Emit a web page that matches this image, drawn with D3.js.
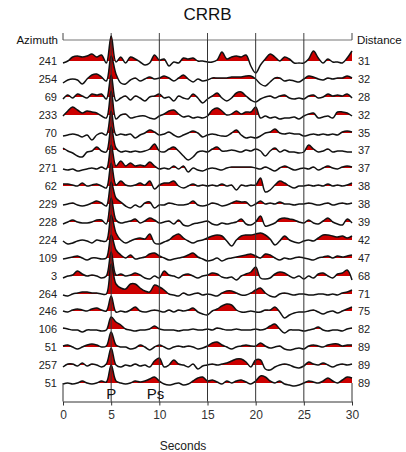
<!DOCTYPE html>
<html><head><meta charset="utf-8">
<script src="https://cdn.jsdelivr.net/npm/d3@7"></script>
<style>
body{margin:0;background:#fff}
svg{display:block}
text{font-family:"Liberation Sans",Arial,Helvetica,sans-serif}
</style>
</head><body>
<svg id="c" width="406" height="452"></svg>
<script>
const title = "CRRB";
const azimuths  = [241,254,69,233,70,65,271,62,229,228,224,109,3,264,246,106,51,257,51];
const distances = [31,32,28,32,35,37,37,38,38,39,42,47,68,71,75,82,89,89,89];
const timeStep = 0.5;            // seconds between samples
const xTicks = [0,5,10,15,20,25,30];
const phaseLabels = ["P","Ps"];
const phaseTimes  = [5,9.6];

// receiver-function amplitudes (relative units), one sample every 0.5 s from 0 to 30 s
const tr01 = [-2,0,4,5,4,5,7,4,6,-2, 25,-1,4,-2,4,2,-1,-4,-2,6, 1,2,-5,-1,-2,3,2,3,0,0, -1,-1,1,9,2,4,5,4,6,-5, -12,-4,2,7,4,0,4,2,-2,-2, -2,2,10,3,-2,2,-1,-1,-2,3, 10];
const tr02 = [-4,-1,0,-1,-5,0,4,5,2,-2, 23,5,-4,-5,-1,1,-2,0,2,0, 1,3,1,-2,1,4,0,-3,0,-2, -1,1,1,1,1,2,2,2,3,3, 0,-5,-7,-3,1,1,-2,-1,-2,-3, 0,3,2,0,-1,1,0,1,1,3, 1];
const tr03 = [-2,2,-1,3,1,-1,3,2,3,-2, 22,-4,-1,1,-3,1,-1,-4,0,1, 3,-1,0,-4,1,-1,-2,3,-1,-6, -2,1,4,-1,-4,-1,4,5,1,-3, -5,-2,0,1,-1,1,2,-1,-2,-1, -2,1,2,-1,0,3,1,2,1,3, -1];
const tr04 = [-1,4,8,5,2,4,3,2,-1,-3, 24,-4,0,1,-3,-2,-1,-1,-3,-4, -1,1,4,5,1,-2,-1,-3,-2,-3, -1,5,7,4,0,1,4,1,3,3, 8,-3,-1,-3,-2,-4,-3,-3,-2,-4, -1,1,2,-3,-2,-1,-3,3,3,2, -1];
const tr05 = [-3,-2,-1,-2,-4,-2,-7,-2,0,-2, 22,-2,-1,-2,-1,-5,-2,0,3,1, -2,-1,1,-2,-4,-2,0,2,0,-4, -2,-1,-2,-3,-3,0,3,-2,-5,-4, -5,-3,0,1,4,0,-1,0,-1,-1, -3,-2,-1,-2,-1,-2,-1,-2,1,2, 1];
const tr06 = [2,-1,-3,-6,-7,-2,-1,3,-1,-2, 23,2,-2,-1,-2,-1,-2,-1,1,6, -1,-2,1,3,-1,-6,-10,-7,-2,-1, -2,1,3,-1,-1,0,-1,-2,0,-1, 1,-1,-6,-1,2,-2,0,-2,-2,-3, -2,5,1,-2,-1,1,-2,-1,-1,-2, -2];
const tr07 = [-1,-2,-1,-3,-2,-1,0,-1,1,-1, 23,2,7,2,5,2,3,2,6,2, -1,0,-1,2,-1,2,-4,0,-2,-3, -1,0,-1,-2,0,1,1,1,1,1, 0,-1,1,-1,-3,0,2,0,-2,-1, 0,-1,1,-2,0,2,0,-1,1,2, 1];
const tr08 = [2,2,1,0,3,0,1,2,0,-2, 23,1,5,1,0,1,3,1,5,-3, 1,3,3,5,0,-2,0,2,0,1, 0,1,0,2,0,1,-4,1,0,1, 1,8,-6,-4,1,5,3,0,-2,0, 0,1,0,1,0,2,0,1,0,1, 3];
const tr09 = [-1,0,1,-1,-2,-1,1,3,1,-2, 22,6,2,-2,-4,-1,-3,1,2,-4, -1,-1,1,0,-1,-1,0,3,-1,-2, -1,1,0,-2,-1,1,3,2,2,-2, 0,3,0,1,0,2,0,0,-1,0, 0,1,0,-1,0,1,-1,0,1,0, 1];
const tr10 = [-2,0,2,0,-1,-1,0,2,2,-2, 24,2,-1,0,1,3,-1,1,4,2, -1,0,1,-2,2,-3,-4,-2,-1,0, 1,-2,-3,-1,-2,-1,0,3,-2,-3, 0,6,-4,-3,-1,3,4,3,2,0, -1,2,-1,-2,1,4,0,-2,-3,3, -1];
const tr11 = [-1,-4,-3,-1,0,-1,-3,0,-1,-1, 25,7,0,-3,-1,1,2,1,6,-3, -4,-2,0,4,6,2,-1,-3,-1,0, 2,4,5,4,-1,-6,0,4,5,5, 6,7,5,1,-5,-1,4,0,-2,-3, -1,0,-1,2,5,5,4,3,4,2, 4];
const tr12 = [-1,0,1,2,0,-2,0,0,-1,0, 23,8,3,0,3,-1,0,1,4,5, 2,0,-2,-1,0,1,3,5,1,-1, -3,-2,0,-3,-1,0,1,2,3,4, 2,0,4,3,0,-2,0,-1,0,1, 0,-1,-2,0,1,2,0,2,1,2, 3];
const tr13 = [-2,0,1,5,2,0,1,0,-2,0, 24,1,2,0,1,3,1,-2,-3,0, -2,5,1,0,-2,1,2,0,-2,0, 1,3,2,-1,-2,-1,-4,0,2,4, 9,-2,-3,-2,2,4,3,0,-2,0, -3,0,-2,2,3,0,-2,2,3,6, -4];
const tr14 = [-1,-2,0,1,2,2,1,1,0,0, 30,10,6,5,10,10,6,3,2,9, 7,4,0,-1,-2,1,-1,0,1,-1, 0,-1,-2,1,3,3,1,-1,-1,1, 4,6,1,-2,-3,0,1,0,-1,0, 0,-1,-1,0,0,-1,0,-1,1,2, 4];
const tr15 = [0,-1,1,2,1,0,2,3,1,0, 15,-1,0,-1,1,4,0,-1,0,1, 0,-1,1,-1,1,0,1,3,-1,-3, -4,0,2,5,7,6,1,-1,-1,0, -1,-1,1,1,4,-1,-7,-4,-2,-1, -1,0,1,-1,-3,-1,0,-2,0,2, 4];
const tr16 = [1,0,-1,-1,-3,-1,-1,-1,-2,-1, 12,7,4,0,-1,-2,-1,-1,0,3, 0,-1,-1,-1,-2,-1,-1,0,-1,-1, 0,-1,1,0,-1,-1,0,-1,-1,-1, 0,-1,0,3,5,0,-4,-1,-1,-1, -2,-1,0,2,-1,-2,-1,-1,-2,0, 1];
const tr17 = [1,2,0,-2,0,2,3,2,0,1, 15,2,0,0,-2,-1,2,0,-3,0, 2,0,-2,0,1,0,1,0,-2,-1, 1,4,5,2,0,-2,0,1,2,1, 1,4,1,-1,0,1,-2,-3,-2,-1, -2,1,2,1,0,2,3,3,1,2, 2];
const tr18 = [-2,1,1,-1,2,-1,1,0,-2,1, 17,0,-2,0,-1,1,-1,0,-2,4, 7,-2,0,5,1,0,-2,1,-4,-1, 0,1,0,1,2,4,6,6,3,-2, 5,5,-4,-5,-2,0,1,0,-2,-3, -1,3,1,0,2,0,-2,0,1,0, 1];
const tr19 = [-1,0,-1,0,2,0,-1,0,2,1, 18,2,0,-1,0,2,1,2,4,6, 2,-1,-2,-1,0,-2,-1,2,5,6, 2,3,1,-1,2,0,2,3,1,-1, 2,7,6,2,0,2,-1,-2,-3,-2, 0,2,1,0,2,5,2,0,3,6, 5];
const traces = [tr01,tr02,tr03,tr04,tr05,tr06,tr07,tr08,tr09,tr10,tr11,tr12,tr13,tr14,tr15,tr16,tr17,tr18,tr19];

const svg = d3.select("#c");
const L = 63, R = 352, TOP = 40, BOT = 401.5;
const x = d3.scaleLinear().domain([0,30]).range([L,R]);
const yBase = d3.scaleLinear().domain([0,traces.length-1]).rangeRound([61,383]);
const amp = d3.scaleLinear().domain([0,1]).range([0,-1.0]);
const RED = "#cc0000";

// title
svg.append("text").attr("x",(L+R)/2).attr("y",20).attr("text-anchor","middle")
  .attr("font-size",17).attr("fill","#111").text(title);

// headers
svg.append("text").attr("x",58).attr("y",44).attr("text-anchor","end").attr("font-size",11.5).attr("fill","#111").text("Azimuth");
svg.append("text").attr("x",357).attr("y",44).attr("text-anchor","start").attr("font-size",11.5).attr("fill","#111").text("Distance");

// top frame line + ticks
svg.append("line").attr("x1",L).attr("x2",R).attr("y1",TOP).attr("y2",TOP).attr("stroke","#777").attr("stroke-width",1.2);
svg.selectAll(".tt").data(xTicks).enter().append("line")
  .attr("x1",d=>x(d)).attr("x2",d=>x(d)).attr("y1",33).attr("y2",TOP).attr("stroke","#444");

const defs = svg.append("defs");
const g = svg.append("g");

traces.forEach((tr,i)=>{
  const b = yBase(i);
  defs.append("clipPath").attr("id","cl"+i).append("rect")
    .attr("x",L-1).attr("y",0).attr("width",R-L+2).attr("height",b);
  const area = d3.area().x((d,j)=>x(j*timeStep)).y0(b).y1(d=>b+amp(d)).curve(d3.curveCatmullRom.alpha(0.5));
  const line = d3.line().x((d,j)=>x(j*timeStep)).y(d=>b+amp(d)).curve(d3.curveCatmullRom.alpha(0.5));
  const tg = g.append("g");
  tg.append("path").attr("d",area(tr)).attr("fill",RED).attr("clip-path","url(#cl"+i+")");
  tg.append("path").attr("d",line(tr)).attr("fill","none").attr("stroke","#111").attr("stroke-width",1.5)
    .attr("stroke-linejoin","round");
  svg.append("text").attr("x",57).attr("y",b+4).attr("text-anchor","end").attr("font-size",11).attr("fill","#222").text(azimuths[i]);
  svg.append("text").attr("x",358).attr("y",b+4).attr("text-anchor","start").attr("font-size",11).attr("fill","#222").text(distances[i]);
});

// vertical grid lines
svg.selectAll(".gl").data(xTicks.slice(1,-1)).enter().append("line")
  .attr("x1",d=>x(d)).attr("x2",d=>x(d)).attr("y1",TOP).attr("y2",BOT).attr("stroke","#333").attr("stroke-width",1);
svg.selectAll(".el").data([xTicks[0],xTicks[xTicks.length-1]]).enter().append("line")
  .attr("x1",d=>x(d)).attr("x2",d=>x(d)).attr("y1",yBase(traces.length-1)).attr("y2",BOT).attr("stroke","#333");

// bottom axis
const ax = svg.append("g").attr("transform",`translate(0,${BOT})`)
  .call(d3.axisBottom(x).tickValues(xTicks).tickSize(4).tickSizeOuter(0).tickPadding(5));
ax.select(".domain").attr("stroke","#333");
ax.selectAll(".tick line").attr("stroke","#333");
ax.selectAll("text").attr("font-size",12).attr("fill","#333").attr("font-family",'"Liberation Sans",Arial,sans-serif');

// phase labels
svg.selectAll(".ph").data(phaseLabels).enter().append("text")
  .attr("x",(d,i)=>x(phaseTimes[i])).attr("y",399).attr("text-anchor","middle")
  .attr("font-size",15).attr("fill","#111").text(d=>d);

// x label
svg.append("text").attr("x",183).attr("y",450).attr("text-anchor","middle").attr("font-size",12).attr("fill","#222").text("Seconds");
</script>
</body></html>
